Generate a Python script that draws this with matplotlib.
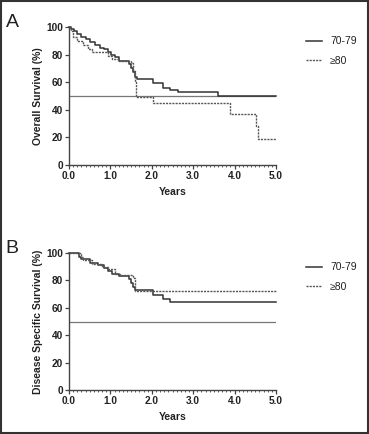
import matplotlib.pyplot as plt
from matplotlib.patches import Rectangle
from matplotlib.ticker import MultipleLocator

plt.rcParams['font.family'] = ['Liberation Sans', 'DejaVu Sans']

# Panel A: overall survival (step times in years, survival %)
os_7079_t = [0, 0.06, 0.12, 0.2, 0.3, 0.4, 0.5, 0.62, 0.75, 0.85, 0.95, 1.02, 1.1, 1.2, 1.45, 1.5, 1.55, 1.6, 1.65, 2.02, 2.27, 2.44, 2.64, 3.6, 5.0]
os_7079_v = [100, 98.5, 97, 95, 93, 91, 89, 87, 85, 84, 82, 80, 78, 75, 73, 70, 67, 64, 62, 59, 56, 54, 52.5, 50.2, 50.2]
os_80_t = [0, 0.05, 0.1, 0.2, 0.35, 0.45, 0.55, 0.95, 1.05, 1.2, 1.5, 1.55, 1.6, 1.63, 2.03, 3.9, 4.52, 4.56, 5.0]
os_80_v = [100, 97, 93, 90, 87, 84, 82, 79, 77, 75, 74, 68, 60, 49, 45, 37, 28, 19, 19]

# Panel B: disease specific survival
dss_7079_t = [0, 0.25, 0.3, 0.5, 0.7, 0.85, 0.95, 1.05, 1.2, 1.45, 1.5, 1.55, 1.6, 2.02, 2.28, 2.44, 5.0]
dss_7079_v = [100, 97, 95.5, 93, 91, 89, 87, 85, 83, 81, 78, 75, 73, 69.3, 66.2, 64.5, 64.5]
dss_80_t = [0, 0.3, 0.35, 0.55, 0.8, 0.95, 1.1, 1.25, 1.55, 1.6, 5.0]
dss_80_v = [100, 97, 95, 92, 90, 88, 85, 84, 82, 72, 72]

groups = ['70-79', '≥80']
ref_line = 50

fig = plt.figure(figsize=(3.69, 4.34), dpi=100)
axA = fig.add_axes([0.187, 0.620, 0.561, 0.318])
axB = fig.add_axes([0.187, 0.101, 0.561, 0.316])

panels = [
    (axA, 'A', 'Overall Survival (%)', os_7079_t, os_7079_v, os_80_t, os_80_v),
    (axB, 'B', 'Disease Specific Survival (%)', dss_7079_t, dss_7079_v, dss_80_t, dss_80_v),
]

for ax, letter, ylab, t1, v1, t2, v2 in panels:
    ax.plot([0, 5], [ref_line, ref_line], color='#777777', lw=0.9)
    ax.step(t1, v1, where='post', color='#333333', lw=1.1, label=groups[0], clip_on=False)
    ax.step(t2, v2, where='post', color='#555555', lw=1.0, ls=(0, (1.5, 0.8)), label=groups[1], clip_on=False)
    ax.set_xlim(0, 5)
    ax.set_ylim(0, 100)
    for s in ['top', 'right']:
        ax.spines[s].set_visible(False)
    for s in ['left', 'bottom']:
        ax.spines[s].set_color('#444444')
        ax.spines[s].set_linewidth(1.0)
    ax.set_xticks([0, 1, 2, 3, 4, 5])
    ax.set_xticklabels(['0.0', '1.0', '2.0', '3.0', '4.0', '5.0'])
    ax.xaxis.set_minor_locator(MultipleLocator(0.1))
    ax.set_yticks([0, 20, 40, 60, 80, 100])
    ax.tick_params(axis='both', which='major', labelsize=7.3, length=3, width=0.9, color='#444444', pad=1.5)
    ax.tick_params(axis='x', which='minor', length=1.5, width=0.6, color='#444444')
    for lbl in ax.get_xticklabels() + ax.get_yticklabels():
        lbl.set_fontweight('bold')
        lbl.set_color('#222222')
    ax.set_xlabel('Years', fontsize=7.5, fontweight='bold', color='#222222', labelpad=4)
    ax.set_ylabel(ylab, fontsize=7.5, fontweight='bold', color='#222222', labelpad=2)
    ax.legend(loc='upper left', bbox_to_anchor=(1.1, 1.0), frameon=False, fontsize=7.5,
              handlelength=1.5, handletextpad=0.8, labelspacing=0.9, labelcolor='#222222')
    bbox = ax.get_position()
    fig.text(0.015, bbox.y1 + 0.01, letter, fontsize=14, color='#222222', va='center')

fig.patches.append(Rectangle((0.003, 0.003), 0.994, 0.994, transform=fig.transFigure,
                             fill=False, edgecolor='#333333', lw=1.5))

plt.savefig('out.png', dpi=100)
